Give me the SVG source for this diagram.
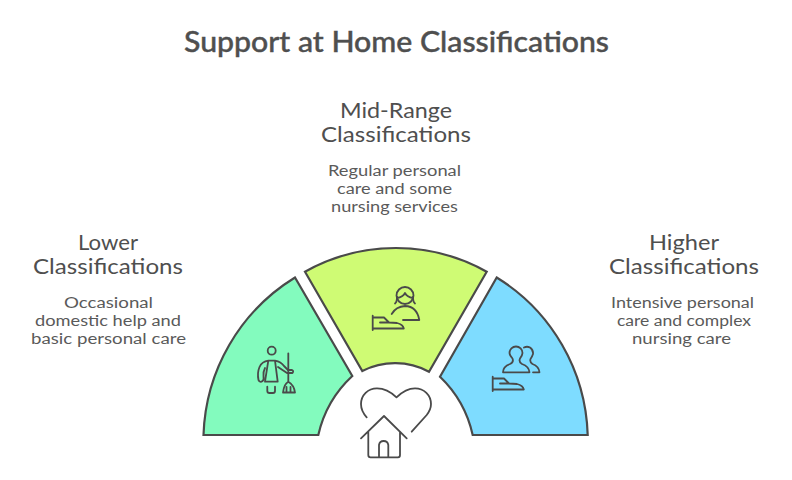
<svg xmlns="http://www.w3.org/2000/svg" width="792" height="480" viewBox="0 0 792 480">
<style>
text{font-family:Lato,"Open Sans","Liberation Sans",sans-serif;fill:#4f4f4f;text-anchor:middle}
.t{font-size:28px;font-weight:500;stroke:#4f4f4f;stroke-width:.4}
.h{font-size:20.500px}
.b{font-size:15.500px;fill:#5a5a5a}
.s{stroke:#4a4a4a;stroke-width:2.2;stroke-linejoin:miter}
.i{fill:none;stroke:#4a4a4a;stroke-width:1.8;stroke-linecap:round;stroke-linejoin:round}
</style>
<defs>
<g id="hand"><path class="i" d="M372.700 315.700V330M372.700 317.500H384L389 322.500L397 323Q403 324.500 403.800 328.500H372.700M380 322.500H389"/></g>
</defs>
<text class="t" x="396.500" y="52" textLength="425" lengthAdjust="spacingAndGlyphs">Support at Home Classifications</text>
<g id="sectors">
<g id="lower">
<path class="s" fill="#83fbbe" d="M203.500 435A192 192 0 0 1 295 277.500L352.300 376A115 115 0 0 0 318.300 435Z"/>
<g id="lower-icon"><circle class="i" cx="271.700" cy="350.700" r="4"/>
<path class="i" d="M268.300 360.700H275L277.700 381.700H265ZM268.300 360.700Q262 361.500 259.500 367Q257 373 258.500 380Q260 383 262.500 381Q264 380 263.500 376Q263 372 265 368M275 360.700Q281 362 284 366L288 370H292Q294 371 292.500 373H287L278 367"/>
<path class="i" d="M267.300 386.700V391Q267.300 393 269.500 393H273Q275 393 275 391V386.700M288.300 353.300V381.700M288.300 381.700Q284 384 283 392.500H295Q294 385 288.300 381.700M286.500 392V387M290.500 392V387"/></g>
<text class="h" x="108" y="250" textLength="60" lengthAdjust="spacingAndGlyphs">Lower</text>
<text class="h" x="108" y="274" textLength="150" lengthAdjust="spacingAndGlyphs">Classifications</text>
<text class="b" x="108.500" y="308" textLength="89" lengthAdjust="spacingAndGlyphs">Occasional</text>
<text class="b" x="108" y="326" textLength="146" lengthAdjust="spacingAndGlyphs">domestic help and</text>
<text class="b" x="108.500" y="344" textLength="155" lengthAdjust="spacingAndGlyphs">basic personal care</text>
</g>
<g id="mid">
<path class="s" fill="#cffb74" d="M305 271.700A186 186 0 0 1 486.700 271.700L429 371.700A72 72 0 0 0 362.300 371Z"/>
<g id="mid-icon"><circle class="i" cx="405" cy="295.500" r="8.500"/>
<path class="i" d="M397 298Q403 297 405 293Q407 297 413 298M397 297Q397 302 395 303.500M413 297Q413 302 415 303.500M391.700 314Q396 306.500 405 306Q417 306.500 419.300 320H403"/>
<use href="#hand"/></g>
<text class="h" x="396" y="118" textLength="112" lengthAdjust="spacingAndGlyphs">Mid-Range</text>
<text class="h" x="396" y="142" textLength="150" lengthAdjust="spacingAndGlyphs">Classifications</text>
<text class="b" x="394.500" y="176" textLength="133" lengthAdjust="spacingAndGlyphs">Regular personal</text>
<text class="b" x="394.500" y="194" textLength="115" lengthAdjust="spacingAndGlyphs">care and some</text>
<text class="b" x="394.500" y="212" textLength="127" lengthAdjust="spacingAndGlyphs">nursing services</text>
</g>
<g id="higher">
<path class="s" fill="#7edcff" d="M496.700 277.500A192 192 0 0 1 587.700 435H472.700A115 115 0 0 0 440 376.700Z"/>
<g id="higher-icon"><path class="i" d="M503 372.300Q503 366.500 510 364Q514 362 512.500 358.500Q509.500 355 509.500 353A6.500 6.500 0 0 1 522.500 353Q522.500 355 520 358.500Q518.500 362 522 364Q529 366.500 529.500 372.300ZM524 347.500Q527 346 530 347.500Q533.500 350 533 354Q532 357 530.500 359Q529.500 362 532.500 364Q539 366.500 539.500 372.300H533"/>
<use href="#hand" x="120" y="61"/></g>
<text class="h" x="684" y="250" textLength="70" lengthAdjust="spacingAndGlyphs">Higher</text>
<text class="h" x="684" y="274" textLength="150" lengthAdjust="spacingAndGlyphs">Classifications</text>
<text class="b" x="682.500" y="308" textLength="143" lengthAdjust="spacingAndGlyphs">Intensive personal</text>
<text class="b" x="684" y="326" textLength="134" lengthAdjust="spacingAndGlyphs">care and complex</text>
<text class="b" x="681.500" y="344" textLength="99" lengthAdjust="spacingAndGlyphs">nursing care</text>
</g>
</g>
<g id="home">
<path class="i" d="M366.700 417.300Q361 411 361 404C361 395 368 388.300 377 388.300C385 388.300 391 392 396.500 397.300C402 392 408 388.300 415 388.300C424 388.300 431 395 431 404C431 409 429 412 426.700 415L411.700 431.700"/>
<path class="i" d="M361 438.300L384 416L406.700 438.300M368.300 431.700V455Q368.300 457.300 370.500 457.300H398Q400 457.300 400 455V431.700M379 457.300V445A4.700 4.700 0 0 1 388.300 445V457.300"/>
</g>
<g id="connectors"/>
</svg>
